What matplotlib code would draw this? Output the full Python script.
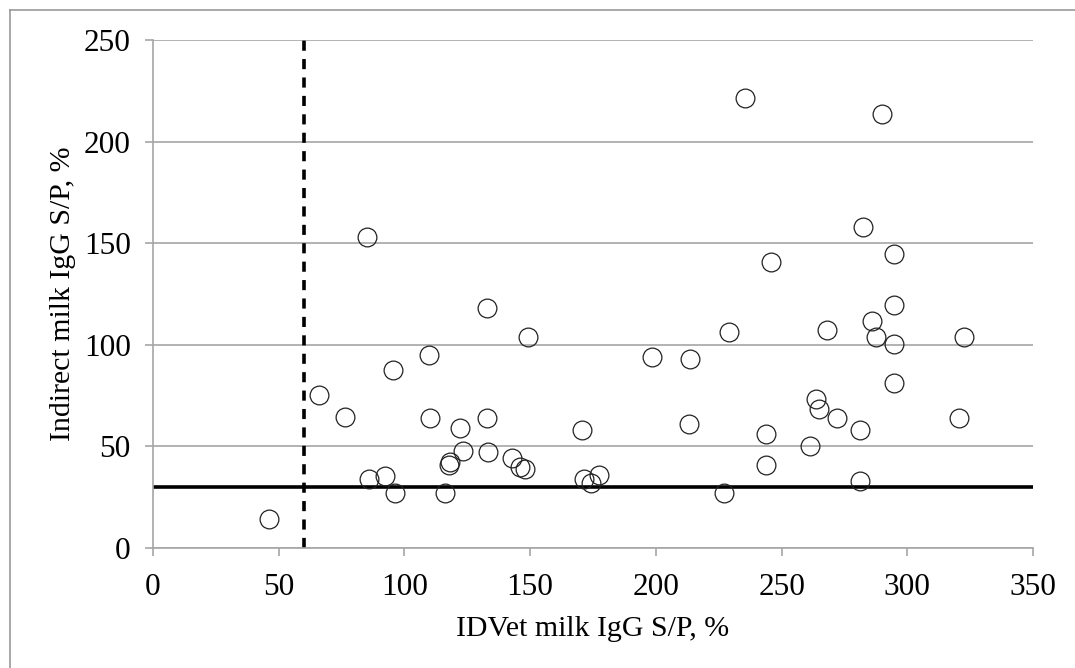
import matplotlib
matplotlib.use("Agg")
import matplotlib.pyplot as plt
from matplotlib.lines import Line2D

plt.rcParams['font.family'] = ['Liberation Serif', 'DejaVu Serif']

# IDVet milk IgG S/P (%) vs indirect milk IgG S/P (%)
idvet = [46.1, 66.2, 76.5, 85.1, 86.0, 92.4, 95.6, 96.4, 109.8, 110.0,
         116.0, 117.7, 118.1, 122.1, 123.2, 132.7, 132.7, 133.1, 142.7, 146.1,
         148.0, 149.0, 170.8, 171.4, 174.1, 177.5, 198.6, 213.5, 213.3, 227.3,
         229.1, 235.5, 243.8, 243.7, 245.8, 261.3, 263.5, 265.0, 268.1, 272.1,
         281.0, 281.1, 282.5, 286.0, 287.5, 290.0, 294.9, 294.9, 294.9, 294.9,
         320.6, 322.7]
indirect = [14.1, 75.3, 64.6, 152.9, 34.0, 35.6, 87.6, 27.2, 95.0, 64.1,
            27.2, 40.8, 42.2, 58.9, 47.7, 118.0, 64.1, 47.2, 44.1, 40.0,
            38.7, 104.0, 57.9, 33.8, 31.8, 36.1, 93.8, 92.9, 61.2, 27.2,
            106.1, 221.6, 56.1, 40.8, 140.6, 50.3, 73.5, 68.4, 107.3, 64.0,
            58.1, 33.0, 158.0, 111.7, 104.0, 213.4, 144.8, 119.7, 100.2, 81.2,
            64.0, 103.8]
cutoff_idvet = 60
cutoff_indirect = 30

fig = plt.figure(figsize=(10.75, 6.68), dpi=100)
ax = fig.add_axes([153/1075, 1 - 548/668, 880/1075, 508/668])

# outer frame (top and left edges visible only)
fig.add_artist(Line2D([10/1075, 1], [1 - 10/668, 1 - 10/668], color='#999999', lw=1.2))
fig.add_artist(Line2D([10/1075, 10/1075], [0, 1 - 10/668], color='#999999', lw=1.2))

ax.set_xlim(0, 350)
ax.set_ylim(0, 250)
ax.set_xticks(range(0, 351, 50))
ax.set_yticks(range(0, 251, 50))
ax.yaxis.grid(True, color='#a6a6a6', lw=1.2)
ax.set_axisbelow(True)

for s in ['top', 'right']:
    ax.spines[s].set_visible(False)
for s in ['left', 'bottom']:
    ax.spines[s].set_color('#a6a6a6')
    ax.spines[s].set_linewidth(1.2)
ax.tick_params(axis='both', colors='#a6a6a6', labelcolor='black', labelsize=22.5,
               length=6, width=1.2, direction='out')
ax.tick_params(axis='x', pad=12)
ax.tick_params(axis='y', pad=10)

ax.axhline(cutoff_indirect, color='black', lw=2.6, zorder=2)
ax.axvline(cutoff_idvet, color='black', lw=2.6, ls=(0, (2.8, 2.3)), zorder=2)

ax.plot(idvet, indirect, 'o', ms=13.5, mfc='none', mec='#222222', mew=0.9, zorder=3)

ax.set_xlabel('IDVet milk IgG S/P, %', fontsize=21.5, labelpad=10)
ax.set_ylabel('Indirect milk IgG S/P, %', fontsize=21.5, labelpad=6)

fig.savefig('out.png', dpi=100)
